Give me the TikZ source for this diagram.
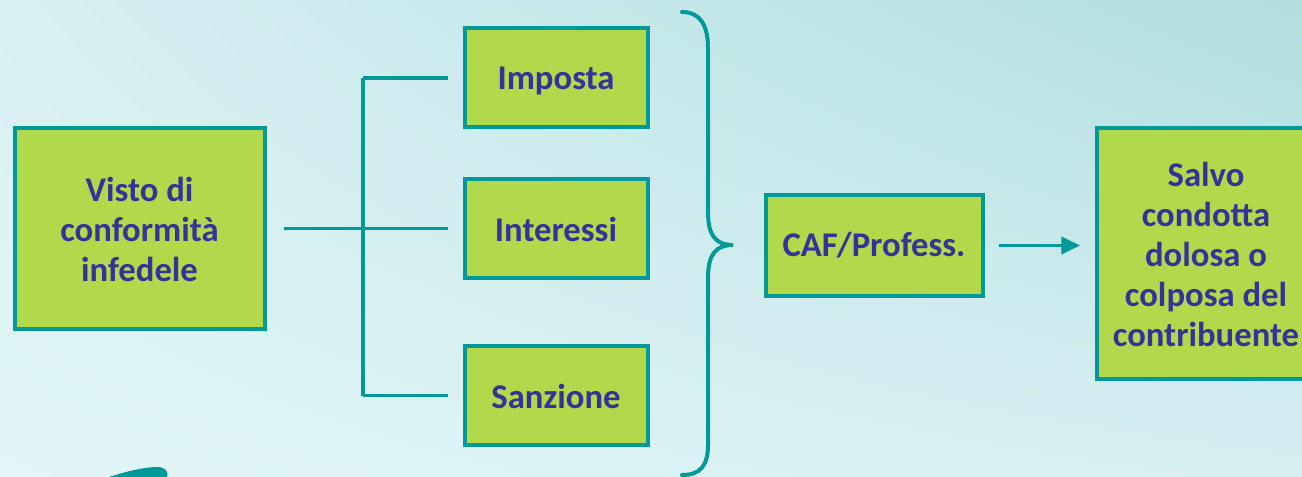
\documentclass[tikz,border=0pt]{standalone}
\usepackage{fontspec}
\setmainfont{Carlito}
\usetikzlibrary{arrows.meta,shadings}
\definecolor{teal1}{HTML}{009999}
\definecolor{boxgreen}{HTML}{B2D94B}
\definecolor{inkblue}{HTML}{333399}
\definecolor{bgul}{RGB}{216,240,242}
\definecolor{bgur}{RGB}{176,222,222}
\definecolor{bgll}{RGB}{226,245,247}
\definecolor{bglr}{RGB}{214,239,241}
% lower a box's ink without changing the size it reports
\newcommand\dropink[2]{\raisebox{-#1}[\height][\depth]{#2}}
\newcommand\stack[1]{\begin{tabular}{@{}c@{}}#1\end{tabular}}
\begin{document}
\begin{tikzpicture}[x=0.75pt,y=-0.75pt,
  box/.style={draw=teal1, fill=boxgreen, line width=3pt, inner sep=0pt,
    text=inkblue, font=\fontsize{26}{30}\selectfont\bfseries, align=center},
  conn/.style={draw=teal1, line width=2.4pt},
  brace/.style={draw=teal1, line width=3pt, line cap=round}]
  % background
  \shade[upper left=bgul, upper right=bgur, lower left=bgll, lower right=bglr]
    (0,0) rectangle (1302,477);
  \useasboundingbox (0,0) rectangle (1302,477);

  % boxes
  \node[box, minimum width=250*0.75pt, minimum height=200*0.75pt] (visto) at (139.5,228.5)
    {\dropink{3.5pt}{\stack{Visto di\\conformità\\infedele}}};
  \node[box, minimum width=183*0.75pt, minimum height=99*0.75pt] (imposta) at (556,78)
    {\dropink{2.5pt}{Imposta}};
  \node[box, minimum width=183*0.75pt, minimum height=99*0.75pt] (interessi) at (556,228.5)
    {\dropink{1pt}{Interessi}};
  \node[box, minimum width=183*0.75pt, minimum height=99*0.75pt] (sanzione) at (556,395.5)
    {\dropink{1pt}{Sanzione}};
  \node[box, minimum width=217*0.75pt, minimum height=100*0.75pt] (caf) at (874,245.5) {CAF/Profess.};
  % the last box runs past the right edge of the page
  \node[box, minimum width=233*0.75pt, minimum height=250*0.75pt] (salvo) at (1213.5,253.5)
    {\dropink{4pt}{\stack{Salvo\\condotta\\dolosa o\\colposa del\\contribuente}}%
     \hspace*{11.25pt}};

  % tree of connectors
  \coordinate (j) at (363,228.5);
  \draw[conn, shorten <=12.75pt] (visto.east) -- (j);
  \draw[conn] (imposta.west -| j) -- (sanzione.west -| j);
  \draw[conn, shorten >=11.25pt] (imposta.west -| j) -- (imposta.west);
  \draw[conn, shorten >=11.25pt] (j) -- (interessi.west);
  \draw[conn, shorten >=11.25pt] (sanzione.west -| j) -- (sanzione.west);

  % brace grouping the three items
  \coordinate (brtip) at (733,245);
  \draw[brace] (682,12) .. controls (700,12) and (708,25) .. (708,48) -- (708,212)
    .. controls (708,236) and (716,245) .. (brtip)
    .. controls (716,245) and (708,254) .. (708,278) -- (708,445)
    .. controls (708,466) and (700,475) .. (682,475);

  % arrow to the final box
  \draw[conn, -{Triangle[length=14pt,width=13pt]}, shorten <=10.5pt, shorten >=11.25pt]
    (caf.east) -- (salvo.west |- caf.east);

  % decorative swoosh at the bottom edge
  \fill[teal1] (106,478) .. controls (124,472) and (144,467) .. (157,467)
    .. controls (166,467) and (169,472) .. (167,478) -- cycle;
\end{tikzpicture}
\end{document}
